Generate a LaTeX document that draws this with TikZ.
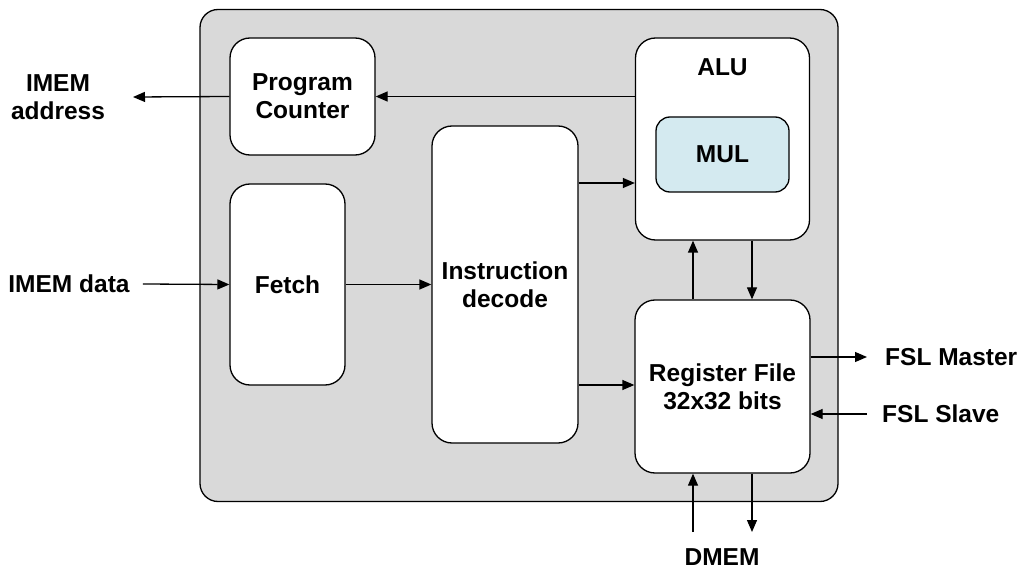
\documentclass[tikz,border=0pt]{standalone}
\usepackage{fontspec}
\setmainfont{Liberation Sans}
\usetikzlibrary{arrows.meta,positioning}
\definecolor{CoreGrey}{HTML}{D9D9D9}
\definecolor{MulBlue}{HTML}{D4EAF0}

\tikzset{
  block/.style={draw=black, line width=1.3pt, fill=white, rounded corners=20pt, inner sep=0pt, align=center},
  sig/.style={line width=1.3pt, -{Triangle[length=12pt,width=10pt]}},
  lbl/.style={inner sep=0pt, align=center}
}

\begin{document}
\begin{tikzpicture}[x=1pt, y=-1pt, font=\fontsize{24.5}{28}\selectfont\bfseries]
\useasboundingbox (0,0) rectangle (1021,572);

% Core outline
\node[block, fill=CoreGrey, rounded corners=18pt, minimum width=638pt, minimum height=492pt] (core) at (519,255.5) {};

% Blocks
\node[block, minimum width=145pt, minimum height=117pt] (pc) at (302.5,96.5) {Program\\Counter};
\node[block, minimum width=115pt, minimum height=201pt] (fetch) at (287.5,284.5) {Fetch};
\node[block, minimum width=146pt, minimum height=317pt] (decode) at (505,284.5) {Instruction\\decode};
\node[block, minimum width=174pt, minimum height=202pt] (alu) at (722.5,139) {};
\node[lbl] (alulbl) at (722.5,67) {ALU};
\node[block, fill=MulBlue, rounded corners=14pt, minimum width=133pt, minimum height=75pt] (mul) at (722.5,154.5) {MUL};
\node[block, minimum width=175pt, minimum height=173pt] (regfile) at (722.5,386.5) {Register File\\32x32 bits};

% External labels
\node[lbl] (imemaddr) at (58,97) {IMEM\\address};
\node[lbl] (imemdata) at (69,284) {IMEM data};
\node[lbl, anchor=west] (fslm) at (885,357) {FSL Master};
\node[lbl, anchor=west] (fsls) at (882,414) {FSL Slave};
\node[lbl] (dmem) at (722,557) {DMEM};

\coordinate (addrend) at (133,97);
\coordinate (dmemin) at (693,532);
\coordinate (dmemout) at (752,532);

% Connections
\draw[sig] (alu.west |- pc.east) -- (pc.east);
\draw[sig] (pc.west) -- (addrend);
\draw[sig] ([xshift=13pt]imemdata.east) -- (fetch.west);
\draw[sig] (fetch.east) -- (decode.west);
\draw[sig] (decode.east |- 0,183) -- (alu.west |- 0,183);
\draw[sig] (decode.east |- 0,385) -- (regfile.west |- 0,385);
\draw[sig] ([xshift=-29.5pt]regfile.north) -- ([xshift=-29.5pt]alu.south);
\draw[sig] ([xshift=29.5pt]alu.south) -- ([xshift=29.5pt]regfile.north);
\draw[sig] (regfile.east |- fslm.west) -- ([xshift=-18pt]fslm.west);
\draw[sig] ([xshift=-15pt]fsls.west) -- (regfile.east |- fsls.west);
\draw[sig] (dmemin) -- ([xshift=-29.5pt]regfile.south);
\draw[sig] ([xshift=29.5pt]regfile.south) -- (dmemout);
\end{tikzpicture}
\end{document}
